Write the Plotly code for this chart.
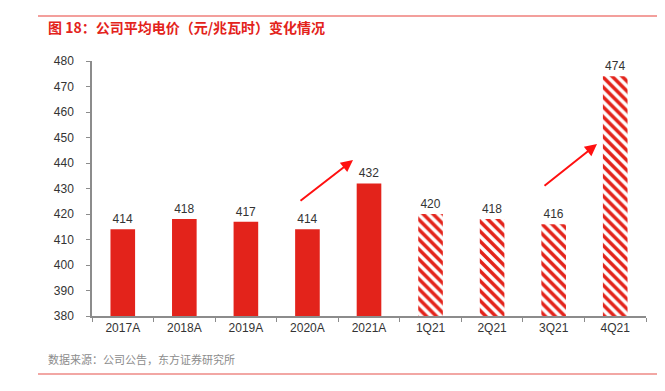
import plotly.graph_objects as go

categories = ["2017A", "2018A", "2019A", "2020A", "2021A", "1Q21", "2Q21", "3Q21", "4Q21"]
values = [414, 418, 417, 414, 432, 420, 418, 416, 474]
hatched = [False, False, False, False, False, True, True, True, True]
y_ticks = list(range(380, 481, 10))

RED = "#E3231B"
OFF = 8  # page body margin
W, H = 665 - OFF, 391 - OFF
L, T = 92 - OFF, 61 - OFF
pw, ph = 554, 255
R, B = W - L - pw, H - T - ph

def px_x(px):
    return (px - OFF - L) / pw

def px_y(py):
    return (T + ph - (py - OFF)) / ph

solid_x = [c for c, h in zip(categories, hatched) if not h]
solid_y = [v for v, h in zip(values, hatched) if not h]
hat_x = [c for c, h in zip(categories, hatched) if h]
hat_y = [v for v, h in zip(values, hatched) if h]

common = dict(base=380, width=0.40, textposition="outside", cliponaxis=False, hoverinfo="skip",
              textfont=dict(size=12, color="#333333", family="Liberation Sans, Arial"))
fig = go.Figure()
fig.add_trace(go.Bar(x=solid_x, y=[v - 380 for v in solid_y], text=[str(v) for v in solid_y],
                     marker=dict(color=RED, line=dict(width=0)), **common))
fig.add_trace(go.Bar(x=hat_x, y=[v - 380 for v in hat_y], text=[str(v) for v in hat_y],
                     marker=dict(color="white", line=dict(width=0),
                                 pattern=dict(shape="\\", fgcolor=RED, bgcolor="white",
                                              size=7, solidity=0.5, fillmode="replace")),
                     **common))

# trend arrows (pixel positions in the reference, converted to axis-domain fractions)
for (tx, ty, hx, hy) in [(299, 202, 353, 160), (543, 187, 597, 144)]:
    fig.add_annotation(x=px_x(hx), y=px_y(hy), ax=px_x(tx), ay=px_y(ty),
                       xref="x domain", yref="y domain", axref="x domain", ayref="y domain",
                       showarrow=True, arrowhead=2, arrowsize=1.2, arrowwidth=2, arrowcolor="#FF1010", text="")

fig.add_shape(type="line", xref="paper", yref="paper", x0=px_x(38), x1=px_x(665), y0=px_y(16), y1=px_y(16),
              line=dict(color="#E8413A", width=1.2))
fig.add_shape(type="line", xref="paper", yref="paper", x0=px_x(38), x1=px_x(665), y0=px_y(374), y1=px_y(374),
              line=dict(color="#EE8A86", width=1.5))
fig.add_annotation(xref="paper", yref="paper", x=px_x(46), y=px_y(27), xanchor="left", yanchor="middle",
                   text="<b>图 18：公司平均电价（元/兆瓦时）变化情况</b>", showarrow=False,
                   font=dict(size=14, color="#E3231B", family="Noto Sans CJK SC"))
fig.add_annotation(xref="paper", yref="paper", x=px_x(46), y=px_y(359), xanchor="left", yanchor="middle",
                   text="数据来源：公司公告，东方证券研究所", showarrow=False,
                   font=dict(size=11, color="#8C8C8C", family="Noto Sans CJK SC"))

fig.update_layout(
    width=W, height=H, margin=dict(l=L, r=R, t=T, b=B),
    paper_bgcolor="white", plot_bgcolor="white", showlegend=False, barmode="overlay",
    font=dict(family="Liberation Sans, Arial", size=12, color="#333333"),
)
fig.update_xaxes(categoryorder="array", categoryarray=categories,
                 showline=True, linecolor="#8C8C8C", linewidth=1.5, ticks="outside", tickson="boundaries",
                 ticklen=4, tickcolor="#8C8C8C", showgrid=False, tickfont=dict(size=12, color="#333333"))
fig.update_yaxes(range=[380, 480], tickvals=y_ticks, showline=True, linecolor="#8C8C8C", linewidth=1.5,
                 ticks="outside", ticklen=4, tickcolor="#8C8C8C", showgrid=False, zeroline=False,
                 tickfont=dict(size=12, color="#333333"), ticklabelstandoff=10)

fig.write_html("out.html")
